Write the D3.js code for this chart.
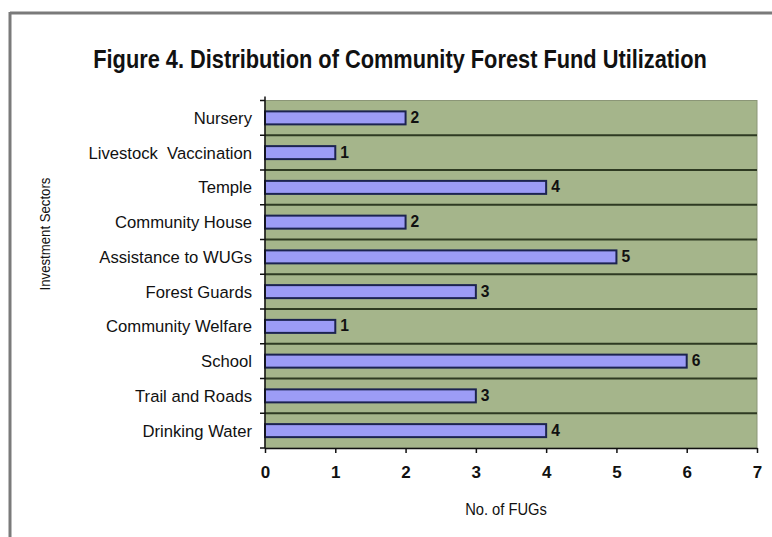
<!DOCTYPE html>
<html>
<head>
<meta charset="utf-8">
<script src="https://cdn.jsdelivr.net/npm/d3@7"></script>
<style>
  html, body { margin: 0; padding: 0; background: #fff; }
  svg { display: block; }
  text { font-family: "Liberation Sans", Arial, sans-serif; fill: #111; }
</style>
</head>
<body>
<svg id="chart" width="772" height="537"></svg>
<script>
// Investment sectors, listed top to bottom
const sectors = [
  "Nursery",
  "Livestock  Vaccination",
  "Temple",
  "Community House",
  "Assistance to WUGs",
  "Forest Guards",
  "Community Welfare",
  "School",
  "Trail and Roads",
  "Drinking Water"
];
// Number of forest user groups investing in each sector
const fugCounts = [2, 1, 4, 2, 5, 3, 1, 6, 3, 4];
const xTicks = [0, 1, 2, 3, 4, 5, 6, 7];

const svg = d3.select("#chart");
const margin = { left: 265, right: 15, top: 100.5, bottom: 89 };
const W = 772, H = 537;
const narrow = 0.92; // horizontal squeeze for a narrow typeface look

// frame: top and left rules
svg.append("line").attr("x1", 10).attr("x2", W).attr("y1", 13).attr("y2", 13)
  .attr("stroke", "#7a7a7a").attr("stroke-width", 3);
svg.append("line").attr("x1", 10).attr("x2", 10).attr("y1", 12).attr("y2", H)
  .attr("stroke", "#7a7a7a").attr("stroke-width", 3);

const x = d3.scaleLinear().domain([0, 7]).range([margin.left, W - margin.right]);
const y = d3.scaleBand().domain(sectors).range([margin.top, H - margin.bottom]);

// plot area
svg.append("rect")
  .attr("x", x(0)).attr("y", y.range()[0])
  .attr("width", x(7) - x(0)).attr("height", y.range()[1] - y.range()[0])
  .attr("fill", "#a5b58b").attr("stroke", "#8b9677").attr("stroke-width", 1);

// category separators
const bounds = d3.range(1, sectors.length).map(i => y.range()[0] + i * y.step());
svg.append("g").selectAll("line").data(bounds).join("line")
  .attr("x1", x(0)).attr("x2", x(7)).attr("y1", d => d).attr("y2", d => d)
  .attr("stroke", "#2e3a22").attr("stroke-width", 2);

// bars
const barH = 13;
svg.append("g").selectAll("rect").data(sectors).join("rect")
  .attr("x", x(0))
  .attr("y", d => y(d) + y.bandwidth() / 2 - barH / 2)
  .attr("width", (d, i) => x(fugCounts[i]) - x(0))
  .attr("height", barH)
  .attr("fill", "#9c9cf6").attr("stroke", "#1c2350").attr("stroke-width", 2);

// value labels
svg.append("g").selectAll("text").data(sectors).join("text")
  .attr("transform", (d, i) => `translate(${x(fugCounts[i]) + 5},${y(d) + y.bandwidth() / 2 + 5}) scale(${narrow},1)`)
  .attr("font-size", 17).attr("font-weight", "bold")
  .text((d, i) => fugCounts[i]);

// y axis
const yAxis = svg.append("g").attr("transform", `translate(${x(0)},0)`);
yAxis.append("line").attr("x1", 0).attr("x2", 0)
  .attr("y1", y.range()[0] - 4).attr("y2", y.range()[1]).attr("stroke", "#111").attr("stroke-width", 1.5);
yAxis.selectAll("line.tk").data([y.range()[0], ...bounds, y.range()[1]]).join("line")
  .attr("class", "tk").attr("x1", -5).attr("x2", 0).attr("y1", d => d).attr("y2", d => d)
  .attr("stroke", "#111").attr("stroke-width", 1.5);
yAxis.selectAll("text").data(sectors).join("text")
  .attr("transform", d => `translate(-13,${y(d) + y.bandwidth() / 2 + 6}) scale(0.98,1)`)
  .attr("text-anchor", "end")
  .attr("font-size", 17).style("white-space", "pre")
  .text(d => d);

// x axis
const xAxis = d3.axisBottom(x).tickValues(xTicks).tickFormat(d3.format("d"))
  .tickSize(5).tickSizeOuter(0).tickPadding(13);
const gx = svg.append("g").attr("transform", `translate(0,${y.range()[1]})`).call(xAxis);
gx.select(".domain").attr("stroke", "#111").attr("stroke-width", 1.5);
gx.selectAll(".tick line").attr("stroke", "#111").attr("stroke-width", 1.5);
gx.selectAll(".tick text").attr("font-size", 17).attr("font-weight", "bold")
  .style("font-family", "'Liberation Sans', Arial, sans-serif").attr("fill", "#222");

// axis titles
svg.append("text").attr("transform", `translate(506,515) scale(${narrow},1)`).attr("text-anchor", "middle")
  .attr("font-size", 16).text("No. of FUGs");
svg.append("text").attr("transform", "translate(50,234) rotate(-90) scale(0.88,1)")
  .attr("text-anchor", "middle").attr("font-size", 15).text("Investment Sectors");

// chart title, squeezed horizontally to a fixed width
const title = svg.append("text").attr("text-anchor", "middle")
  .attr("font-size", 25).attr("font-weight", "bold")
  .text("Figure 4. Distribution of Community Forest Fund Utilization");
const titleW = title.node().getComputedTextLength();
title.attr("transform", `translate(400,68) scale(${614 / titleW},1)`);
</script>
</body>
</html>
